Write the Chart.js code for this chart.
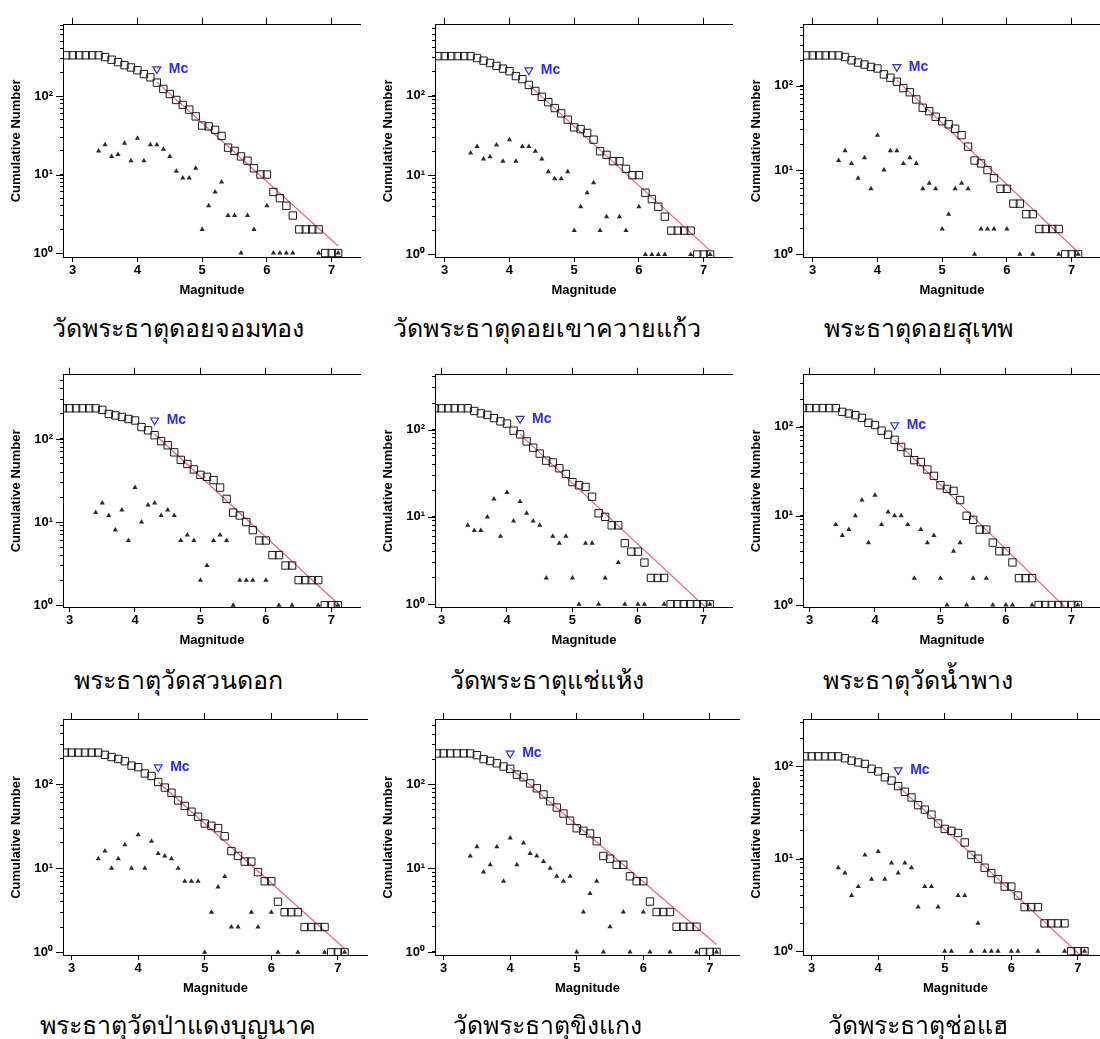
<!DOCTYPE html>
<html>
<head>
<meta charset="utf-8">
<script src="https://cdn.jsdelivr.net/npm/chart.js@4.4.1/dist/chart.umd.min.js"></script>
<style>
    body { margin: 0; background: #fff; }
    #page { position: relative; width: 1100px; height: 1039px; overflow: hidden; background: #fff; }
    canvas { position: absolute; }
    .caption {
        position: absolute;
        transform: translate(-50%, -50%);
        white-space: nowrap;
        font-family: "Noto Sans", "DejaVu Sans", sans-serif;
        font-size: 25px;
        color: #000;
    }
</style>
</head>
<body>
<div id="page"></div>
<script>
// magnitude bins (0.1 step) shared by all nine catalogues
const magnitudes = [2.9, 3.0, 3.1, 3.2, 3.3, 3.4, 3.5, 3.6, 3.7, 3.8, 3.9, 4.0, 4.1, 4.2, 4.3, 4.4, 4.5, 4.6, 4.7, 4.8, 4.9, 5.0, 5.1, 5.2, 5.3, 5.4, 5.5, 5.6, 5.7, 5.8, 5.9, 6.0, 6.1, 6.2, 6.3, 6.4, 6.5, 6.6, 6.7, 6.8, 6.9, 7.0, 7.1]

const siteNames = [
    "วัดพระธาตุดอยจอมทอง",
    "วัดพระธาตุดอยเขาควายแก้ว",
    "พระธาตุดอยสุเทพ",
    "พระธาตุวัดสวนดอก",
    "วัดพระธาตุแช่แห้ง",
    "พระธาตุวัดน้ำพาง",
    "พระธาตุวัดป่าแดงบุญนาค",
    "วัดพระธาตุขิงแกง",
    "วัดพระธาตุช่อแฮ"
]

// cumulative number of events >= M
const cum1 = [330, 330, 330, 330, 330, 330, 313, 290, 270, 247, 231, 213, 190, 173, 148, 123, 106, 89, 77, 67, 55, 42, 41, 37, 31, 22, 20, 17, 15, 12, 10, 10, 6, 5, 4, 3, 2, 2, 2, 2, 1, 1, 1]
const cum2 = [316, 316, 316, 316, 316, 316, 299, 277, 259, 238, 220, 204, 177, 162, 137, 115, 97, 83, 70, 60, 50, 40, 38, 34, 28, 20, 18, 15, 15, 12, 10, 10, 6, 5, 4, 3, 2, 2, 2, 2, 1, 1, 1]
const cum3 = [230, 230, 230, 230, 230, 230, 220, 201, 189, 179, 168, 161, 137, 125, 112, 94, 84, 69, 55, 50, 43, 38, 35, 31, 26, 19, 13, 12, 10, 8, 6, 6, 4, 4, 3, 3, 2, 2, 2, 2, 1, 1, 1]
const cum4 = [234, 234, 234, 234, 234, 234, 224, 200, 192, 184, 174, 167, 139, 127, 111, 94, 84, 69, 56, 50, 43, 37, 35, 32, 26, 19, 13, 12, 10, 8, 6, 6, 4, 4, 3, 3, 2, 2, 2, 2, 1, 1, 1]
const cum5 = [175, 175, 175, 175, 175, 175, 163, 153, 147, 135, 124, 117, 97, 88, 73, 62, 53, 44, 42, 36, 31, 25, 23, 22, 17, 11, 10, 8, 8, 5, 4, 4, 3, 2, 2, 2, 1, 1, 1, 1, 1, 1, 1]
const cum6 = [161, 161, 161, 161, 161, 161, 146, 140, 134, 125, 110, 104, 90, 81, 71, 59, 51, 42, 40, 33, 28, 22, 20, 19, 15, 10, 9, 7, 7, 5, 4, 4, 3, 2, 2, 2, 1, 1, 1, 1, 1, 1, 1]
const cum7 = [237, 237, 237, 237, 237, 237, 223, 210, 199, 187, 166, 159, 134, 125, 106, 91, 79, 64, 55, 47, 41, 34, 32, 30, 24, 16, 14, 12, 12, 9, 7, 7, 4, 3, 3, 3, 2, 2, 2, 2, 1, 1, 1]
const cum8 = [235, 235, 235, 235, 235, 235, 224, 201, 191, 179, 164, 154, 131, 122, 103, 90, 76, 63, 53, 45, 37, 30, 28, 26, 21, 14, 13, 11, 11, 8, 7, 7, 4, 3, 3, 3, 2, 2, 2, 2, 1, 1, 1]
const cum9 = [128, 128, 128, 128, 128, 128, 122, 115, 110, 106, 94, 88, 76, 70, 61, 53, 46, 38, 34, 30, 24, 21, 20, 19, 15, 11, 10, 8, 7, 6, 5, 5, 4, 3, 3, 3, 2, 2, 2, 2, 1, 1, 1]

// number of events in each bin
const inc1 = [null, null, null, null, null, 20, 24, 17, 18, 25, 15, 29, 15, 24, 24, 21, 17, 11, 9, 9, 12, 2, 4, 6, 8, 3, 3, 1, 3, 2, null, 4, 1, 1, 1, 1, null, null, null, 1, null, null, 1]
const inc2 = [null, null, null, null, null, 19, 23, 16, 17, 24, 15, 28, 15, 23, 23, 20, 16, 11, 9, 9, 11, 2, 4, 6, 8, 2, 3, null, 3, 2, null, 4, 1, 1, 1, 1, null, null, null, 1, null, null, 1]
const inc3 = [null, null, null, null, null, 13, 17, 12, 8, 14, 6, 26, 10, 17, 17, 12, 14, 12, 6, 7, 6, 2, 3, 6, 7, 6, 1, 2, 2, 2, null, 2, null, 1, null, 1, null, null, null, 1, null, null, 1]
const inc4 = [null, null, null, null, null, 13, 17, 12, 8, 14, 6, 26, 10, 16, 17, 12, 14, 12, 6, 7, 6, 2, 3, 6, 7, 6, 1, 2, 2, 2, null, 2, null, 1, null, 1, null, null, null, 1, null, null, 1]
const inc5 = [null, null, null, null, null, 8, 7, 7, 10, 16, 6, 19, 9, 15, 11, 9, 8, 2, 6, 5, 6, 2, 1, 5, 5, 1, 2, null, 3, 1, null, 1, 1, null, null, 1, null, null, null, null, null, null, 1]
const inc6 = [null, null, null, null, null, 8, 6, 7, 10, 15, 5, 17, 8, 11, 10, 10, 8, 2, 7, 5, 6, 2, 1, 4, 5, 1, 2, null, 2, 1, null, 1, 1, null, null, 1, null, null, null, null, null, null, 1]
const inc7 = [null, null, null, null, null, 13, 16, 10, 13, 19, 10, 25, 10, 21, 15, 14, 13, 10, 7, 7, 7, 1, 3, 6, 8, 2, 2, null, 3, 2, null, 3, 1, null, null, 1, null, null, null, 1, null, null, 1]
const inc8 = [null, null, null, null, null, 14, 18, 9, 11, 18, 7, 23, 11, 20, 15, 14, 12, 10, 8, 7, 8, 1, 3, 5, 7, 1, 2, null, 3, 1, null, 3, 1, null, null, 1, null, null, null, 1, null, null, 1]
const inc9 = [null, null, null, null, null, 8, 7, 4, 5, 11, 6, 12, 6, 9, 7, 9, 8, 3, 5, 5, 3, 1, 1, 4, 4, 1, 2, 1, 1, 1, null, 1, 1, null, null, 1, null, null, null, 1, null, null, 1]

const cumulative = [cum1, cum2, cum3, cum4, cum5, cum6, cum7, cum8, cum9]
const perBin = [inc1, inc2, inc3, inc4, inc5, inc6, inc7, inc8, inc9]

// magnitude of completeness and where its marker sits
const mcMagnitude = [4.3, 4.3, 4.3, 4.3, 4.2, 4.3, 4.3, 4.0, 4.3]
const mcMarkerN = [220, 210, 168, 168, 133, 104, 159, 235, 91]

// Gutenberg-Richter fit, from Mc up to M 7.1
const fitEndMagnitude = 7.1
const fitStartN = [150, 137, 117, 114, 88, 71, 106, 157, 61]
const fitEndN = [1.23, 1.12, 1.06, 1.04, 0.83, 0.68, 1.11, 1.23, 0.82]

// vertical range of each panel
const nMin = [0.89, 0.93, 0.93, 0.95, 0.93, 0.95, 0.93, 0.92, 0.91]
const nMax = [807, 784, 531, 592, 423, 380, 582, 592, 318]

const yTickValues = [1, 2, 3, 4, 5, 6, 7, 8, 9, 10, 20, 30, 40, 50, 60, 70, 80, 90, 100, 200, 300, 400, 500, 600, 700, 800, 900]
const majorTicks = [1, 10, 100]
const majorTickLabels = ["10⁰", "10¹", "10²"]
const magTicks = [3, 4, 5, 6, 7]

// page layout
const rowPlotTop = [19, 369, 714]
const rowPlotBottom = [257, 607, 955]
const rowPlotWidth = [300, 300, 307]
const rowMagMin = [2.85, 2.9, 2.87]
const magMax = 7.45
const colPlotLeft = [63, 435, 803]
const colCaptionX = [178, 547, 918]
const rowCaptionY = [328, 680, 1025]

const axisW = 63
const topAxisH = 7
const bottomAxisH = 41
const fontFamily = "'Liberation Sans', Arial, sans-serif"
const axisFont = { family: fontFamily, size: 13, weight: "bold" }

const page = document.getElementById("page")

const extras = {
    id: "extras",
    afterDraw(chart) {
        const ctx = chart.ctx
        const y = chart.scales.y
        ctx.save()
        // longer tick marks at the decades
        ctx.strokeStyle = "#000"
        ctx.lineWidth = 1
        for (const v of majorTicks) {
            if (v < y.min || v > y.max) continue
            const py = Math.round(y.getPixelForValue(v)) + 0.5
            ctx.beginPath()
            ctx.moveTo(y.right - 7, py)
            ctx.lineTo(y.right, py)
            ctx.stroke()
        }
        const mc = chart.getDatasetMeta(3).data[0]
        ctx.fillStyle = "#2b2bf5"
        ctx.font = "bold 14px " + fontFamily
        ctx.textBaseline = "middle"
        ctx.fillText("Mc", mc.x + 12, mc.y)
        ctx.restore()
    }
}

for (let i = 0; i < 9; i++) {
    const row = Math.floor(i / 3)
    const col = i % 3
    const plotH = rowPlotBottom[row] - rowPlotTop[row]
    const canvas = document.createElement("canvas")
    const w = axisW + rowPlotWidth[row] + 4
    const h = 2 + topAxisH + plotH + bottomAxisH + 2
    canvas.width = w
    canvas.height = h
    canvas.style.left = (colPlotLeft[col] - axisW) + "px"
    canvas.style.top = (rowPlotTop[row] - topAxisH - 2) + "px"
    canvas.style.width = w + "px"
    canvas.style.height = h + "px"
    page.appendChild(canvas)

    const squares = magnitudes.map((m, k) => ({ x: m, y: cumulative[i][k] }))
    const triangles = magnitudes
        .map((m, k) => ({ x: m, y: perBin[i][k] }))
        .filter(p => p.y !== null)

    const magAxis = {
        type: "linear",
        min: rowMagMin[row],
        max: magMax,
        afterBuildTicks: s => { s.ticks = magTicks.map(v => ({ value: v })) },
        border: { display: true, color: "#000", width: 1 },
        grid: { drawOnChartArea: false, color: "#000", tickLength: 5 }
    }

    new Chart(canvas, {
        type: "scatter",
        data: {
            datasets: [
                {
                    data: squares,
                    pointStyle: "rect",
                    pointRadius: 5.2,
                    borderWidth: 1,
                    borderColor: "#1a1a1a",
                    backgroundColor: "rgba(0,0,0,0)"
                },
                {
                    data: triangles,
                    pointStyle: "triangle",
                    pointRadius: 3,
                    borderWidth: 0,
                    backgroundColor: "#2a2a2a"
                },
                {
                    type: "line",
                    data: [
                        { x: mcMagnitude[i], y: fitStartN[i] },
                        { x: fitEndMagnitude, y: fitEndN[i] }
                    ],
                    showLine: true,
                    pointRadius: 0,
                    borderWidth: 1.2,
                    borderColor: "#ec6088",
                    clip: 0
                },
                {
                    data: [{ x: mcMagnitude[i], y: mcMarkerN[i] }],
                    pointStyle: "triangle",
                    rotation: 180,
                    pointRadius: 4.5,
                    borderWidth: 1.2,
                    borderColor: "#2b2bf5",
                    backgroundColor: "#fff"
                }
            ]
        },
        options: {
            responsive: false,
            animation: false,
            devicePixelRatio: 1,
            layout: { padding: { top: 2, left: 0, right: 4, bottom: 2 } },
            plugins: {
                legend: { display: false },
                tooltip: { enabled: false }
            },
            scales: {
                x: {
                    ...magAxis,
                    position: "bottom",
                    afterFit: s => { s.height = bottomAxisH },
                    ticks: { font: axisFont, color: "#000", padding: 1, maxRotation: 0, autoSkip: false },
                    title: {
                        display: true,
                        text: "Magnitude",
                        font: axisFont,
                        color: "#000",
                        padding: { top: 0, bottom: 0 }
                    }
                },
                xTop: {
                    ...magAxis,
                    position: "top",
                    afterFit: s => { s.height = topAxisH },
                    grid: { drawOnChartArea: false, color: "#000", tickLength: 7 },
                    ticks: { display: false }
                },
                y: {
                    type: "logarithmic",
                    position: "left",
                    min: nMin[i],
                    max: nMax[i],
                    afterFit: s => { s.width = axisW },
                    afterBuildTicks: s => {
                        s.ticks = yTickValues.filter(v => v >= s.min && v <= s.max).map(v => ({ value: v }))
                    },
                    border: { display: true, color: "#000", width: 1 },
                    grid: { drawOnChartArea: false, color: "#000", tickLength: 3 },
                    ticks: {
                        font: { family: fontFamily, size: 13, weight: "bold" },
                        color: "#000",
                        padding: 7,
                        autoSkip: false,
                        callback: v => {
                            const k = majorTicks.indexOf(v)
                            return k >= 0 ? majorTickLabels[k] : ""
                        }
                    },
                    title: {
                        display: true,
                        text: "Cumulative Number",
                        font: axisFont,
                        color: "#000",
                        padding: { top: 9, bottom: 0 }
                    }
                }
            }
        },
        plugins: [extras]
    })

    const caption = document.createElement("div")
    caption.className = "caption"
    caption.textContent = siteNames[i]
    caption.style.left = colCaptionX[col] + "px"
    caption.style.top = rowCaptionY[row] + "px"
    page.appendChild(caption)
}
</script>
</body>
</html>
